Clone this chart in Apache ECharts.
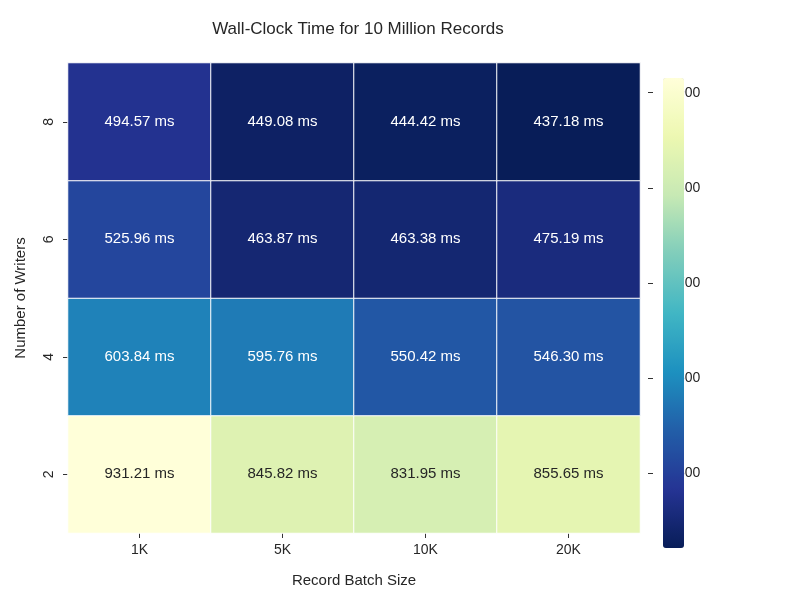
<!DOCTYPE html>
<html>
<head>
<meta charset="utf-8">
<script src="https://cdn.jsdelivr.net/npm/echarts@6/dist/echarts.min.js"></script>
<style>html,body{margin:0;padding:0;background:#fff}#chart{width:800px;height:600px}</style>
</head>
<body>
<div id="chart"></div>
<script>
const batchSizes = ['1K', '5K', '10K', '20K'];
const writers = ['2', '4', '6', '8'];
// rows follow writers (bottom to top)
const times2 = [931.21, 845.82, 831.95, 855.65];
const times4 = [603.84, 595.76, 550.42, 546.30];
const times6 = [525.96, 463.87, 463.38, 475.19];
const times8 = [494.57, 449.08, 444.42, 437.18];
const colorbarTicks = [500, 600, 700, 800, 900];

const rows = [times2, times4, times6, times8];
const vmin = 437.18, vmax = 931.21;
const data = [];
rows.forEach((row, y) => row.forEach((v, x) => data.push([x, y, v])));

const font = 'Liberation Sans, Arial, sans-serif';
const chart = echarts.init(document.getElementById('chart'));
chart.setOption({
  textStyle: { fontFamily: font },
  title: {
    text: 'Wall-Clock Time for 10 Million Records',
    left: 353, top: 16, textAlign: 'center',
    textStyle: { fontSize: 17, fontWeight: 'normal', color: '#262626', fontFamily: font }
  },
  grid: [
    { left: 68, top: 63, width: 572, height: 470 },
    { left: 648, top: 63, width: 21, height: 470 }
  ],
  xAxis: [
    {
      type: 'category', data: batchSizes, gridIndex: 0,
      name: 'Record Batch Size', nameLocation: 'middle', nameGap: 40,
      nameTextStyle: { fontSize: 15, color: '#262626' },
      axisLine: { show: false }, splitLine: { show: false },
      axisTick: { show: true, alignWithLabel: true, length: 5, lineStyle: { color: '#333' } },
      axisLabel: { fontSize: 14, color: '#262626', margin: 10 }
    },
    { type: 'value', gridIndex: 1, show: false, min: 0, max: 1 }
  ],
  yAxis: [
    {
      type: 'category', data: writers, gridIndex: 0,
      name: 'Number of Writers', nameLocation: 'middle', nameGap: 40,
      nameTextStyle: { fontSize: 15, color: '#262626' },
      axisLine: { show: false }, splitLine: { show: false },
      axisTick: { show: true, alignWithLabel: true, length: 5, lineStyle: { color: '#333' } },
      axisLabel: { fontSize: 14, color: '#262626', rotate: 90, margin: 12 }
    },
    {
      type: 'value', gridIndex: 1, position: 'right', min: vmin, max: vmax,
      axisLine: { show: false }, splitLine: { show: false },
      axisTick: { show: true, length: 5, customValues: colorbarTicks, lineStyle: { color: '#333' } },
      axisLabel: { fontSize: 14, color: '#262626', margin: 8, customValues: colorbarTicks }
    }
  ],
  visualMap: {
    type: 'continuous', min: vmin, max: vmax, seriesIndex: 0,
    left: 648, top: 63, itemWidth: 21, itemHeight: 470,
    calculable: false, text: ['', ''], showLabel: false, hoverLink: false,
    inRange: { color: ['#081d58', '#253494', '#225ea8', '#1d91c0', '#41b6c4', '#7fcdbb', '#c7e9b4', '#edf8b1', '#ffffd9'] }
  },
  series: [{
    type: 'heatmap', xAxisIndex: 0, yAxisIndex: 0, data: data,
    itemStyle: { borderColor: '#ffffff', borderWidth: 1 },
    label: {
      show: true, fontSize: 15, fontFamily: font,
      formatter: p => p.value[2].toFixed(2) + ' ms',
      color: '#fff',
      rich: {}
    },
    labelLayout: null
  }]
});
// dark text on light cells
chart.setOption({
  series: [{
    data: data.map(d => ({
      value: d,
      label: { color: d[2] > 700 ? '#262626' : '#ffffff' }
    }))
  }]
});
</script>
</body>
</html>
